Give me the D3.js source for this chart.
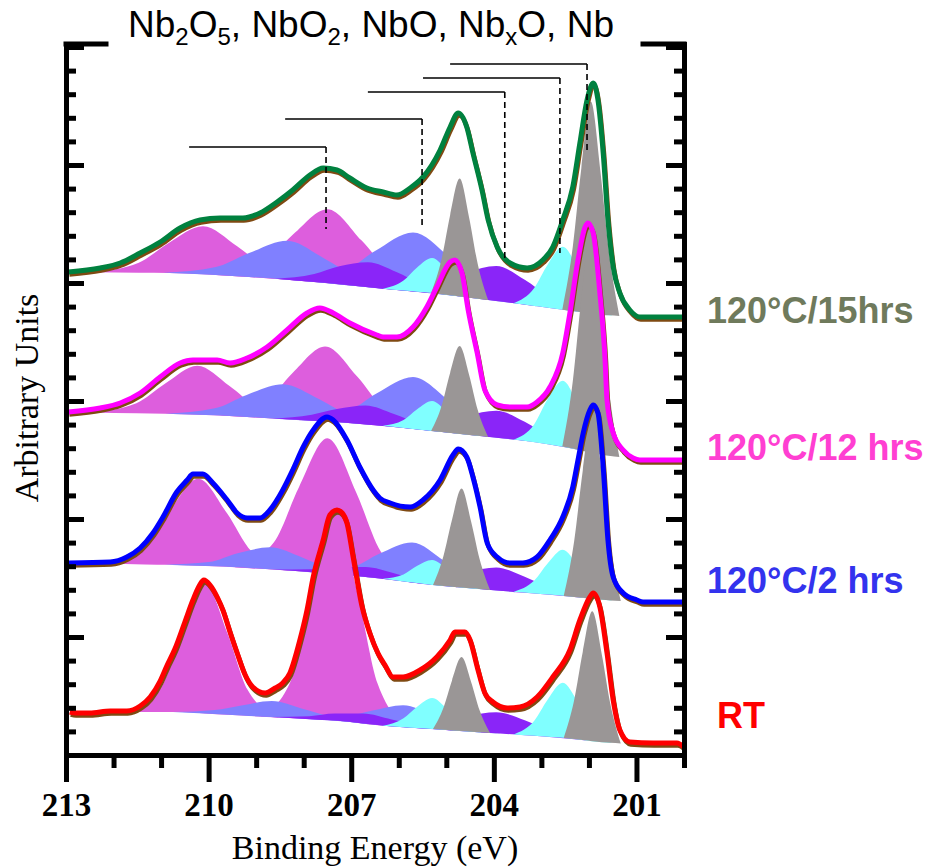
<!DOCTYPE html>
<html>
<head>
<meta charset="utf-8">
<script src="https://cdn.jsdelivr.net/npm/d3@7"></script>
<style>
  body { margin: 0; background: #fff; }
  svg { display: block; }
</style>
</head>
<body>
<div id="chart"></div>
<script>
// Nb 3d XPS spectra.
// energy in eV, intensity in arbitrary units (stacked offsets included)

const xMajorTicks = [213, 210, 207, 204, 201];
const xMinorTicks = [212, 211, 209, 208, 206, 205, 203, 202, 200];

const titleParts = ["Nb", "2", "O", "5", ", NbO", "2", ", NbO, Nb", "x", "O, Nb"];

const sampleLabels = ["120°C/15hrs", "120°C/12 hrs", "120°C/2 hrs", "RT"];
const sampleLineColors = ["#00813f", "#ff00ff", "#0000ff", "#ff0000"];
const sampleLabelColors = ["#6f7a5c", "#ff3fd2", "#3333ee", "#ff0000"];

const componentNames = ["Nb2O5", "NbO2", "NbO", "NbxO", "Nb"];
const componentColors = ["#dd5edd", "#8080ff", "#8a25f8", "#80ffff", "#9a9696"];

// reference markers (3d5/2 position, bar top, dashed bottom)
const markerE = [207.53, 205.51, 203.77, 202.61, 202.04];
const markerTop = [608, 636, 663, 677, 691];
const markerBottom = [526, 526, 495, 502, 603];
const markerSplit = 2.88;

// ---------- 120C / 15 hrs ----------
const h15Line = [[212.95,483],[212.28,487],[211.86,492],[211.44,502],[211.02,513],[210.60,527],[210.18,535],[209.76,537],[209.28,537],[208.92,542],[208.56,553],[208.23,565],[207.87,580],[207.59,587],[207.30,585],[207.03,577],[206.67,567],[206.33,563],[206.04,560],[205.76,567],[205.49,578],[205.13,605],[204.92,628],[204.75,642],[204.57,628],[204.44,602],[204.25,565],[204.12,535],[203.93,508],[203.66,492],[203.30,487],[202.97,495],[202.76,508],[202.55,535],[202.34,568],[202.19,612],[202.04,655],[201.91,672],[201.81,655],[201.70,602],[201.60,535],[201.49,488],[201.35,462],[201.14,445],[200.93,438],[200.00,438]];
const h15Bg = [[213,483],[210.6,482],[209.5,479],[208.5,476],[207.3,471],[206.3,466],[205.3,462],[204.3,456],[203.3,450],[202.5,445],[201.7,440],[201,438],[200,438]];
const h15Nb2O5 = [
  [[212.46,0],[211.47,10],[210.84,30],[210.12,48],[209.40,30],[208.77,10],[207.78,0]],
  [[209.84,0],[208.85,15],[208.22,46],[207.50,74],[206.78,46],[206.15,15],[205.16,0]]];
const h15NbO2 = [
  [[210.95,0],[209.85,8],[209.15,24],[208.35,39],[207.55,24],[206.85,8],[205.75,0]],
  [[208.30,0],[207.20,12],[206.50,37],[205.70,59],[204.90,37],[204.20,12],[203.10,0]]];
const h15NbO = [
  [[208.60,0],[207.78,8],[207.25,18],[206.65,25],[206.05,18],[205.53,8],[204.70,0]],
  [[205.90,0],[205.08,11],[204.55,25],[203.95,35],[203.35,25],[202.83,11],[202.00,0]]];
const h15NbxO = [
  [[206.34,0],[205.90,10],[205.62,24],[205.30,35],[204.98,24],[204.70,10],[204.26,0]],
  [[203.59,0],[203.15,18],[202.87,43],[202.55,63],[202.23,43],[201.95,18],[201.51,0]]];
const h15Nb = [
  [[205.32,0],[205.10,35],[204.92,80],[204.72,118],[204.52,80],[204.34,35],[204.12,0]],
  [[202.56,0],[202.34,64],[202.16,144],[201.96,212],[201.76,144],[201.58,64],[201.36,0]]];

// ---------- 120C / 12 hrs ----------
const h12Line = [[212.95,343],[212.28,347],[211.86,352],[211.44,362],[211.02,378],[210.60,392],[210.33,395],[209.82,395],[209.55,392],[209.19,397],[208.77,408],[208.35,425],[207.93,442],[207.66,447],[207.38,442],[207.03,432],[206.46,420],[206.33,418],[206.04,418],[205.70,428],[205.41,448],[205.20,468],[204.92,493],[204.82,495],[204.67,482],[204.54,445],[204.35,402],[204.19,365],[203.93,350],[203.66,348],[203.30,348],[203.09,353],[202.82,368],[202.55,402],[202.40,442],[202.23,495],[202.08,528],[202.02,532],[201.91,522],[201.77,462],[201.66,395],[201.62,355],[201.49,322],[201.28,305],[201.07,297],[200.93,295],[200.00,295]];
const h12Bg = [[213,343],[210.6,341],[209.5,339],[208.5,336],[207.3,333],[206.3,329],[205.3,324],[204.3,319],[203.3,314],[202.5,308],[201.7,300],[201,296],[200,295]];
const h12Nb2O5 = [
  [[212.45,0],[211.52,10],[210.92,30],[210.24,49],[209.56,30],[208.97,10],[208.03,0]],
  [[209.76,0],[208.83,15],[208.23,47],[207.55,75],[206.87,47],[206.28,15],[205.34,0]]];
const h12NbO2 = [
  [[210.91,0],[209.87,7],[209.20,22],[208.44,35],[207.68,22],[207.02,7],[205.97,0]],
  [[208.17,0],[207.13,10],[206.46,32],[205.70,52],[204.94,32],[204.28,10],[203.23,0]]];
const h12NbO = [
  [[208.65,0],[207.83,6],[207.30,13],[206.70,19],[206.10,13],[205.58,6],[204.75,0]],
  [[205.90,0],[205.08,8],[204.55,19],[203.95,27],[203.35,19],[202.83,8],[202.00,0]]];
const h12NbxO = [
  [[206.34,0],[205.90,8],[205.62,20],[205.30,30],[204.98,20],[204.70,8],[204.26,0]],
  [[203.59,0],[203.15,18],[202.87,45],[202.55,66],[202.23,45],[201.95,18],[201.51,0]]];
const h12Nb = [
  [[205.32,0],[205.10,26],[204.92,60],[204.72,88],[204.52,60],[204.34,26],[204.12,0]],
  [[202.56,0],[202.34,67],[202.16,152],[201.96,224],[201.76,152],[201.58,67],[201.36,0]]];

// ---------- 120C / 2 hrs ----------
const h2Line = [[212.95,192],[212.07,193],[211.72,198],[211.44,207],[211.17,222],[210.96,238],[210.67,263],[210.45,275],[210.33,281],[210.12,281],[209.91,272],[209.61,255],[209.40,242],[209.19,237],[208.92,237],[208.71,245],[208.44,265],[208.23,285],[208.01,308],[207.80,325],[207.51,338],[207.38,335],[207.09,315],[206.82,288],[206.54,265],[206.40,257],[206.18,252],[205.76,248],[205.49,255],[205.13,275],[204.86,300],[204.75,306],[204.57,298],[204.44,278],[204.29,248],[204.14,212],[203.93,198],[203.66,192],[203.39,192],[203.09,198],[202.82,215],[202.55,238],[202.34,268],[202.23,295],[202.12,322],[201.98,345],[201.91,350],[201.81,342],[201.70,288],[201.60,215],[201.49,178],[201.28,162],[200.99,155],[200.86,153],[200.00,153]];
const h2Bg = [[213,192],[210.6,190],[209.5,188],[208.5,185],[207.3,181],[206.3,176],[205.3,170],[204.3,166],[203.3,162],[202.5,159],[201.7,155],[201,153],[200,153]];
const h2Nb2O5 = [
  [[212.17,0],[211.35,17],[210.82,54],[210.22,87],[209.62,54],[209.10,17],[208.27,0]],
  [[209.45,0],[208.63,27],[208.10,84],[207.50,135],[206.90,84],[206.38,27],[205.55,0]]];
const h2NbO2 = [
  [[210.92,0],[209.99,4],[209.39,14],[208.71,22],[208.03,14],[207.44,4],[206.50,0]],
  [[207.93,0],[207.00,8],[206.40,25],[205.72,40],[205.04,25],[204.45,8],[203.51,0]]];
const h2NbO = [
  [[208.65,0],[207.83,3],[207.30,7],[206.70,10],[206.10,7],[205.58,3],[204.75,0]],
  [[205.90,0],[205.08,7],[204.55,16],[203.95,23],[203.35,16],[202.83,7],[202.00,0]]];
const h2NbxO = [
  [[206.34,0],[205.90,7],[205.62,17],[205.30,25],[204.98,17],[204.70,7],[204.26,0]],
  [[203.59,0],[203.15,13],[202.87,31],[202.55,46],[202.23,31],[201.95,13],[201.51,0]]];
const h2Nb = [
  [[205.28,0],[205.06,30],[204.88,67],[204.68,99],[204.48,67],[204.30,30],[204.08,0]],
  [[202.53,0],[202.31,56],[202.13,127],[201.93,187],[201.73,127],[201.55,56],[201.33,0]]];

// ---------- RT ----------
const rtLine = [[212.92,43],[212.81,42],[212.50,42],[212.07,44],[211.72,44],[211.44,49],[211.23,58],[211.02,74],[210.88,89],[210.71,106],[210.50,133],[210.33,155],[210.20,169],[210.10,175],[209.97,170],[209.82,158],[209.70,145],[209.55,123],[209.40,102],[209.23,80],[209.07,68],[208.81,62],[208.60,67],[208.44,72],[208.29,82],[208.08,115],[207.93,145],[207.80,178],[207.59,215],[207.45,240],[207.30,245],[207.19,242],[207.09,232],[206.96,198],[206.77,148],[206.61,122],[206.44,102],[206.29,90],[206.12,78],[205.91,78],[205.55,85],[205.20,98],[204.92,115],[204.82,123],[204.61,123],[204.50,115],[204.35,88],[204.19,62],[204.02,53],[203.72,47],[203.45,48],[203.09,58],[202.76,78],[202.40,105],[202.19,135],[201.98,158],[201.91,162],[201.77,148],[201.62,102],[201.49,55],[201.35,25],[201.14,13],[200.65,12],[200.15,12],[200.00,8]];
const rtBg = [[213,43],[210.6,43],[209.5,40],[208.3,37],[207.2,34],[206.3,29],[205.3,26],[204.4,23],[203.4,20],[202.5,17],[201.8,13],[201.2,11],[200,11]];
const rtNb2O5 = [
  [[211.64,0],[210.98,26],[210.56,81],[210.08,130],[209.60,81],[209.18,26],[208.52,0]],
  [[208.90,0],[208.24,41],[207.82,128],[207.34,207],[206.86,128],[206.44,41],[205.78,0]]];
const rtNbO2 = [
  [[210.75,0],[209.87,4],[209.31,10],[208.67,16],[208.03,10],[207.47,4],[206.59,0]],
  [[207.99,0],[207.11,5],[206.55,14],[205.91,22],[205.27,14],[204.71,5],[203.83,0]]];
const rtNbO = [
  [[208.70,0],[207.88,3],[207.35,7],[206.75,10],[206.15,7],[205.63,3],[204.80,0]],
  [[205.90,0],[205.08,6],[204.55,15],[203.95,21],[203.35,15],[202.83,6],[202.00,0]]];
const rtNbxO = [
  [[206.34,0],[205.90,9],[205.62,21],[205.30,31],[204.98,21],[204.70,9],[204.26,0]],
  [[203.59,0],[203.15,15],[202.87,37],[202.55,55],[202.23,37],[201.95,15],[201.51,0]]];
const rtNb = [
  [[205.28,0],[205.06,22],[204.88,50],[204.68,74],[204.48,50],[204.30,22],[204.08,0]],
  [[202.53,0],[202.31,39],[202.13,88],[201.93,130],[201.73,88],[201.55,39],[201.33,0]]];

// table used for drawing, top spectrum first
const spectra = [
  { line: h15Line, bg: h15Bg, comps: [h15Nb2O5, h15NbO2, h15NbO, h15NbxO, h15Nb] },
  { line: h12Line, bg: h12Bg, comps: [h12Nb2O5, h12NbO2, h12NbO, h12NbxO, h12Nb] },
  { line: h2Line, bg: h2Bg, comps: [h2Nb2O5, h2NbO2, h2NbO, h2NbxO, h2Nb] },
  { line: rtLine, bg: rtBg, comps: [rtNb2O5, rtNbO2, rtNbO, rtNbxO, rtNb] }
];

// ---------- layout ----------
const W = 933, H = 867;
const plotLeft = 66, plotRight = 684, plotTop = 44, plotBottom = 755;
const serif = "'Liberation Serif', 'Times New Roman', serif";
const sans = "'Liberation Sans', Arial, sans-serif";

const svg = d3.select("#chart").append("svg")
    .attr("width", W)
    .attr("height", H);

const x = d3.scaleLinear().domain([213, 200]).range([plotLeft, plotRight]);
const y = d3.scaleLinear().domain([0, 711]).range([plotBottom, plotTop]);

// component fills
spectra.forEach(s => {
    const bg = d3.scaleLinear()
        .domain(s.bg.map(d => d[0]))
        .range(s.bg.map(d => d[1]));
    const area = d3.area()
        .x(d => x(d[0]))
        .y0(d => y(bg(d[0])))
        .y1(d => y(bg(d[0]) + d[1]))
        .curve(d3.curveMonotoneX);
    s.comps.forEach((comp, ci) => {
        comp.forEach(peak => {
            svg.append("path")
                .datum(peak)
                .attr("d", area)
                .attr("fill", componentColors[ci]);
        });
    });
});

// fit envelope (brown) and measured line
const line = d3.line()
    .x(d => x(d[0]))
    .y(d => y(d[1]))
    .curve(d3.curveMonotoneX);

spectra.forEach((s, i) => {
    svg.append("path")
        .datum(s.line)
        .attr("d", line)
        .attr("fill", "none")
        .attr("stroke", "#7f4a12")
        .attr("stroke-width", 4.5)
        .attr("stroke-linejoin", "round")
        .attr("transform", "translate(1,2.5)");
    svg.append("path")
        .datum(s.line)
        .attr("d", line)
        .attr("fill", "none")
        .attr("stroke", sampleLineColors[i])
        .attr("stroke-width", 5)
        .attr("stroke-linejoin", "round");
});

// reference markers
markerE.forEach((e, i) => {
    svg.append("line")
        .attr("x1", x(e + markerSplit)).attr("x2", x(e))
        .attr("y1", y(markerTop[i])).attr("y2", y(markerTop[i]))
        .attr("stroke", "#000").attr("stroke-width", 1.6);
    svg.append("line")
        .attr("x1", x(e)).attr("x2", x(e))
        .attr("y1", y(markerTop[i])).attr("y2", y(markerBottom[i]))
        .attr("stroke", "#000").attr("stroke-width", 1.6)
        .attr("stroke-dasharray", "6,4");
});

// axes
const yStep = 23.6;
const yMinor = d3.range(1, 31).filter(k => k % 5 !== 0).map(k => k * yStep).filter(v => v < 711);
const yMajor = d3.range(1, 31).filter(k => k % 5 === 0).map(k => k * yStep).filter(v => v < 711);

function styleAxis(g) {
    g.selectAll("path, line").attr("stroke", "#000").attr("stroke-width", 5);
    g.select(".domain").attr("stroke-linecap", "square");
}

svg.append("g")
    .attr("transform", `translate(0,${plotBottom})`)
    .call(d3.axisBottom(x).tickValues(xMinorTicks).tickSize(13).tickSizeOuter(0).tickFormat(""))
    .call(styleAxis);

const xMajorG = svg.append("g")
    .attr("transform", `translate(0,${plotBottom})`)
    .call(d3.axisBottom(x).tickValues(xMajorTicks).tickSize(27).tickSizeOuter(0).tickFormat(d3.format("d")))
    .call(styleAxis);
xMajorG.select(".domain").remove();
xMajorG.selectAll("text")
    .attr("y", 61).attr("dy", 0)
    .style("font-family", serif)
    .style("font-weight", "bold")
    .style("font-size", "33px")
    .attr("fill", "#000");

[[plotLeft, d3.axisRight], [plotRight, d3.axisLeft]].forEach(([px, axisFn]) => {
    svg.append("g")
        .attr("transform", `translate(${px},0)`)
        .call(axisFn(y).tickValues(yMinor).tickSize(10).tickSizeOuter(0).tickFormat(""))
        .call(styleAxis);
    const g = svg.append("g")
        .attr("transform", `translate(${px},0)`)
        .call(axisFn(y).tickValues(yMajor).tickSize(18).tickSizeOuter(0).tickFormat(""))
        .call(styleAxis);
    g.select(".domain").remove();
});

// top bracket pieces
svg.append("line")
    .attr("x1", plotLeft).attr("x2", 106).attr("y1", plotTop).attr("y2", plotTop)
    .attr("stroke", "#000").attr("stroke-width", 5).attr("stroke-linecap", "square");
svg.append("line")
    .attr("x1", 643).attr("x2", plotRight).attr("y1", plotTop).attr("y2", plotTop)
    .attr("stroke", "#000").attr("stroke-width", 5).attr("stroke-linecap", "square");

// title with subscripts
const title = svg.append("text")
    .attr("x", 371).attr("y", 37)
    .attr("text-anchor", "middle")
    .style("font-family", sans)
    .style("font-size", "37px")
    .attr("fill", "#000");
titleParts.forEach((t, i) => {
    const sub = i % 2 === 1;
    title.append("tspan")
        .text(t)
        .attr("dy", sub ? 8 : (i === 0 ? 0 : -8))
        .style("font-size", sub ? "24px" : "37px");
});

// axis titles
svg.append("text")
    .attr("x", (plotLeft + plotRight) / 2).attr("y", 859)
    .attr("text-anchor", "middle")
    .style("font-family", serif)
    .style("font-size", "34px")
    .text("Binding Energy (eV)");

svg.append("text")
    .attr("transform", "translate(38,398) rotate(-90)")
    .attr("text-anchor", "middle")
    .style("font-family", serif)
    .style("font-size", "34px")
    .text("Arbitrary Units");

// sample labels
const labelX = [707, 707, 707, 717];
const labelY = [323, 460, 593, 728];
sampleLabels.forEach((t, i) => {
    svg.append("text")
        .attr("x", labelX[i]).attr("y", labelY[i])
        .style("font-family", sans)
        .style("font-weight", "bold")
        .style("font-size", "36px")
        .attr("fill", sampleLabelColors[i])
        .text(t);
});
</script>
</body>
</html>
